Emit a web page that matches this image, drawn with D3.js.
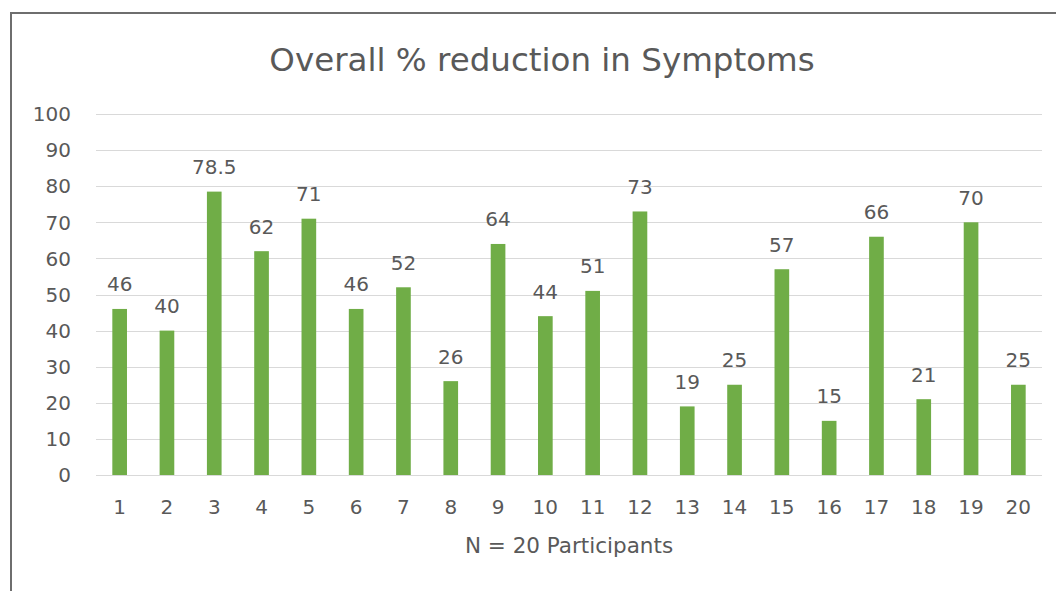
<!DOCTYPE html>
<html lang="en">
  <head>
    <title>Overall % reduction in Symptoms</title>
    <script src="https://d3js.org/d3.v7.min.js"></script>
    <style>
      body { margin: 0; background: #fff; }
    </style>
  </head>

  <body>
    <div id="chart"></div>

    <script>
      // data
      const participants = ["1","2","3","4","5","6","7","8","9","10","11","12","13","14","15","16","17","18","19","20"];
      const reductions = [46, 40, 78.5, 62, 71, 46, 52, 26, 64, 44, 51, 73, 19, 25, 57, 15, 66, 21, 70, 25];
      const yTicks = [0, 10, 20, 30, 40, 50, 60, 70, 80, 90, 100];

      const W = 1056, H = 591;
      const margin = {top: 114, right: 14, bottom: 116, left: 96};
      const textColor = "#595959";
      const font = "'DejaVu Sans', sans-serif";

      const svg = d3.select("#chart")
        .append("svg")
          .attr("width", W)
          .attr("height", H);

      // chart frame (right/bottom edges run off the picture)
      svg.append("rect")
        .attr("x", 11).attr("y", 13)
        .attr("width", W + 20).attr("height", H + 20)
        .attr("fill", "#fff")
        .attr("stroke", "#6e6e6e")
        .attr("stroke-width", 2);

      const x = d3.scaleBand()
        .domain(participants)
        .range([margin.left, W - margin.right])
        .paddingInner(0.69)
        .paddingOuter(0.345);

      const y = d3.scaleLinear()
        .domain([0, 100])
        .range([H - margin.bottom, margin.top]);

      // gridlines
      svg.append("g")
        .selectAll("line")
        .data(yTicks)
        .join("line")
          .attr("x1", margin.left)
          .attr("x2", W - margin.right)
          .attr("y1", d => Math.round(y(d)) + 0.5)
          .attr("y2", d => Math.round(y(d)) + 0.5)
          .attr("stroke", "#d9d9d9")
          .attr("stroke-width", 1);

      // y tick labels
      svg.append("g")
        .selectAll("text")
        .data(yTicks)
        .join("text")
          .attr("x", 71)
          .attr("y", d => y(d))
          .attr("dy", "0.36em")
          .attr("text-anchor", "end")
          .attr("font-family", font)
          .attr("font-size", 20)
          .attr("fill", textColor)
          .text(d => d);

      // bars
      svg.append("g")
        .selectAll("rect")
        .data(reductions)
        .join("rect")
          .attr("x", (d, i) => x(participants[i]))
          .attr("y", d => y(d))
          .attr("width", x.bandwidth())
          .attr("height", d => y(0) - y(d))
          .attr("fill", "#70ad47");

      // value labels
      svg.append("g")
        .selectAll("text")
        .data(reductions)
        .join("text")
          .attr("x", (d, i) => x(participants[i]) + x.bandwidth() / 2)
          .attr("y", d => y(d) - 17.5)
          .attr("text-anchor", "middle")
          .attr("font-family", font)
          .attr("font-size", 20)
          .attr("fill", textColor)
          .text(d => d);

      // x tick labels
      svg.append("g")
        .selectAll("text")
        .data(participants)
        .join("text")
          .attr("x", d => x(d) + x.bandwidth() / 2)
          .attr("y", y(0) + 39)
          .attr("text-anchor", "middle")
          .attr("font-family", font)
          .attr("font-size", 20)
          .attr("fill", textColor)
          .text(d => d);

      // title
      svg.append("text")
        .attr("x", 542)
        .attr("y", 71)
        .attr("text-anchor", "middle")
        .attr("font-family", font)
        .attr("font-size", 32.5)
        .attr("fill", textColor)
        .text("Overall % reduction in Symptoms");

      // axis title
      svg.append("text")
        .attr("x", (margin.left + W - margin.right) / 2)
        .attr("y", 553)
        .attr("text-anchor", "middle")
        .attr("font-family", font)
        .attr("font-size", 21.5)
        .attr("fill", textColor)
        .text("N = 20 Participants");
    </script>
  </body>
</html>
